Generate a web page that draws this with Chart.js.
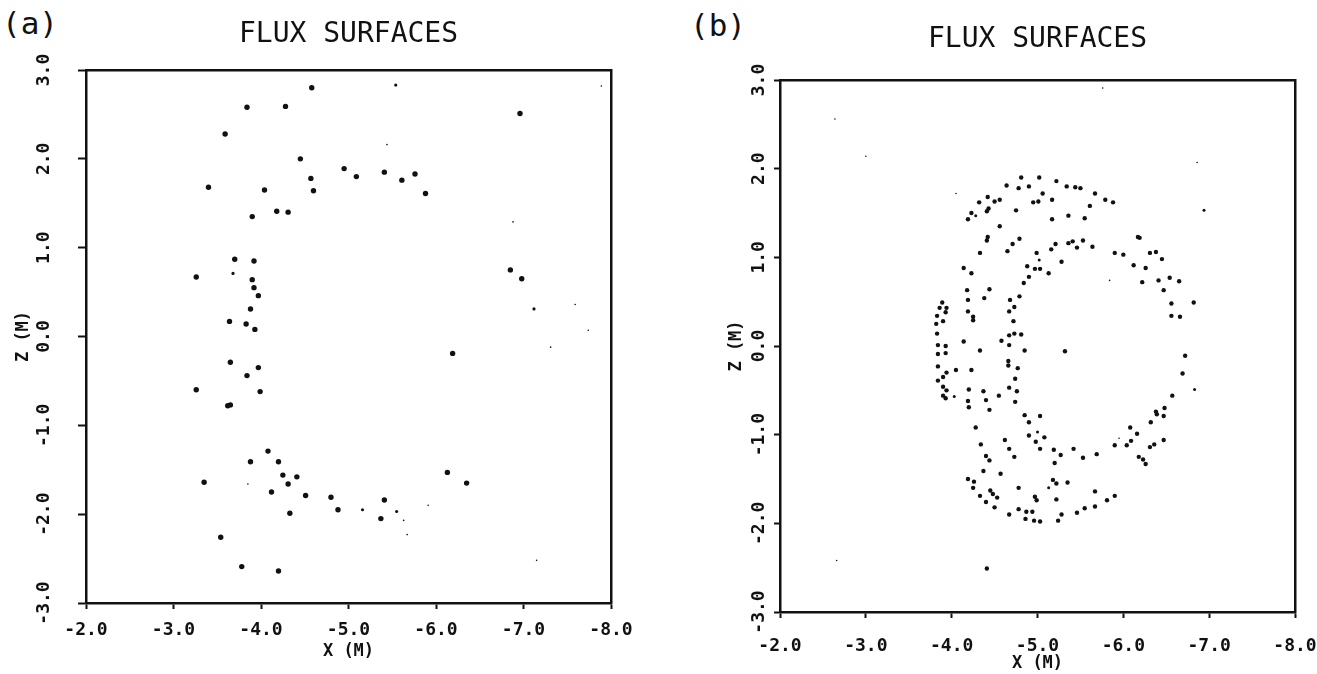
<!DOCTYPE html>
<html>
<head>
<meta charset="utf-8">
<script src="https://cdn.jsdelivr.net/npm/chart.js@4.4.1/dist/chart.umd.min.js"></script>
<style>
  html, body { margin: 0; padding: 0; background: #fff; }
  body { width: 1317px; height: 674px; overflow: hidden; position: relative; }
  canvas { position: absolute; top: 0; }
  .plab { position: absolute; font-family: 'DejaVu Sans Mono', monospace; font-size: 31px; line-height: 1; color: #111; }
</style>
</head>
<body>
<div class="plab" style="left:2px;top:8px">(a)</div>
<div class="plab" style="left:690px;top:10px">(b)</div>
<canvas id="ca" width="700" height="674" style="left:0"></canvas>
<canvas id="cb" width="700" height="674" style="left:660px"></canvas>
<script>
// ---------- data ----------
const chartTitle = "FLUX SURFACES";
const xAxisTitle = "X (M)";
const yAxisTitle = "Z (M)";
const xTickValues = [-8, -7, -6, -5, -4, -3, -2];
const xTickLabels = ["-8.0", "-7.0", "-6.0", "-5.0", "-4.0", "-3.0", "-2.0"];
const yTickValues = [-3, -2, -1, 0, 1, 2, 3];
const yTickLabels = ["-3.0", "-2.0", "-1.0", "0.0", "1.0", "2.0", "3.0"];

// panel (a) puncture points [X, Z]
const aDots = [
  [-3.84,2.58],[-4.28,2.59],[-4.58,2.80],[-6.96,2.51],[-3.59,2.28],[-4.45,2.00],
  [-4.95,1.89],[-5.09,1.80],[-5.41,1.85],[-5.61,1.76],[-5.76,1.83],[-5.88,1.61],
  [-4.57,1.78],[-4.60,1.64],[-3.40,1.68],[-4.04,1.65],[-4.18,1.41],[-4.31,1.40],
  [-3.90,1.35],[-3.70,0.87],[-3.92,0.85],[-3.26,0.67],[-6.85,0.75],[-6.98,0.65],
  [-3.90,0.64],[-3.92,0.55],[-3.97,0.46],[-3.88,0.31],[-3.64,0.17],[-3.83,0.14],
  [-3.93,0.08],[-6.19,-0.19],[-3.65,-0.29],[-3.97,-0.35],[-3.84,-0.44],[-3.26,-0.60],
  [-3.99,-0.62],[-3.65,-0.77],[-3.62,-0.78],[-4.08,-1.29],[-3.88,-1.41],[-4.20,-1.41],
  [-4.25,-1.56],[-4.41,-1.58],[-4.31,-1.66],[-3.35,-1.64],[-4.12,-1.75],[-4.51,-1.79],
  [-4.80,-1.81],[-6.13,-1.53],[-6.35,-1.65],[-5.41,-1.84],[-4.88,-1.95],[-4.33,-1.99],
  [-5.37,-2.05],[-3.54,-2.26],[-3.78,-2.59],[-4.20,-2.64]
];
const aSmallDots = [
  [-5.54,2.83],[-3.68,0.71],[-7.12,0.31],[-5.16,-1.95],[-5.55,-1.97]
];
const aFaintDots = [
  [-5.63,-2.07],[-5.67,-2.23],[-5.44,2.16],[-5.91,-1.90],[-7.31,-0.12],[-7.15,-2.52],
  [-3.85,-1.66],[-7.89,2.82],[-7.59,0.36],[-6.88,1.29],[-7.74,0.07]
];

// panel (b) puncture points [X, Z]
const bDots = [
  [-4.81,1.90],[-5.02,1.90],[-5.22,1.86],[-5.34,1.80],[-5.44,1.79],[-5.50,1.78],[-4.64,1.81],[-4.78,1.78],[-4.90,1.80],
  [-4.42,1.68],[-4.32,1.62],[-4.50,1.63],[-4.56,1.65],[-4.43,1.55],[-4.41,1.52],[-4.23,1.50],[-4.19,1.43],
  [-4.75,1.53],[-4.95,1.62],[-5.01,1.63],[-5.06,1.72],[-5.17,1.65],[-5.17,1.43],[-4.56,1.35],[-4.42,1.23],
  [-4.41,1.19],[-4.79,1.21],[-4.71,1.15],[-4.65,1.07],[-4.33,1.05],[-5.21,1.15],[-5.16,1.09],[-4.99,1.05],
  [-5.28,0.95],[-4.88,0.90],[-4.97,0.87],[-5.03,0.87],[-5.13,0.82],[-4.14,0.88],[-4.23,0.82],[-4.90,0.78],
  [-4.84,0.71],[-4.44,0.64],[-4.18,0.63],[-4.38,0.54],[-4.19,0.52],[-4.79,0.56],[-4.68,0.52],[-3.89,0.49],
  [-3.86,0.43],[-3.94,0.43],[-3.93,0.38],[-3.83,0.34],[-3.90,0.28],[-3.82,0.25],[-4.73,0.44],[-4.67,0.39],
  [-4.19,0.39],[-4.25,0.33],[-4.25,0.29],[-4.72,0.28],[-3.83,0.14],[-4.67,0.12],[-4.73,0.14],[-4.81,0.13],
  [-4.58,0.06],[-4.14,0.05],[-3.84,0.01],[-3.93,0.00],[-4.67,0.01],[-4.33,-0.05],[-4.85,-0.05],[-3.84,-0.09],
  [-3.93,-0.08],[-4.66,-0.17],[-4.66,-0.22],[-3.84,-0.23],[-4.05,-0.27],[-4.23,-0.27],[-3.94,-0.30],[-4.77,-0.25],
  [-5.32,-0.06],
  [-5.67,1.72],[-5.79,1.65],[-5.88,1.62],[-5.61,1.58],[-5.36,1.47],[-5.55,1.44],[-6.17,1.23],[-6.19,1.22],
  [-5.36,1.16],[-5.41,1.18],[-5.53,1.19],[-5.46,1.11],[-5.64,1.12],[-5.90,1.05],[-6.00,1.03],[-6.31,1.05],
  [-6.38,1.06],[-6.45,0.98],[-6.12,0.91],[-6.26,0.88],[-6.22,0.72],[-6.41,0.74],[-6.54,0.77],[-6.65,0.73],
  [-6.47,0.63],[-6.56,0.48],[-6.82,0.49],[-6.56,0.34],[-6.66,0.33],[-6.72,-0.11],[-6.69,-0.31],
  [-3.84,-0.39],[-3.90,-0.35],[-4.74,-0.37],[-3.90,-0.46],[-3.94,-0.50],[-3.90,-0.56],[-3.93,-0.59],[-4.20,-0.49],
  [-4.37,-0.51],[-4.67,-0.47],[-4.76,-0.51],[-4.55,-0.56],[-4.19,-0.62],[-4.20,-0.69],[-4.40,-0.61],[-4.74,-0.63],
  [-4.44,-0.72],[-4.85,-0.78],[-5.03,-0.79],[-4.90,-0.86],[-4.28,-0.92],[-4.90,-1.01],[-5.08,-1.03],[-4.62,-1.06],
  [-4.98,-1.08],[-4.34,-1.11],[-4.67,-1.16],[-5.03,-1.16],[-5.19,-1.17],[-5.27,-1.23],[-4.40,-1.24],[-4.44,-1.29],
  [-4.73,-1.25],[-5.20,-1.32],[-4.37,-1.41],[-4.57,-1.44],[-4.19,-1.50],[-4.26,-1.53],[-4.25,-1.60],[-5.18,-1.51],
  [-5.22,-1.55],[-4.78,-1.60],[-4.45,-1.63],[-4.48,-1.67],[-4.33,-1.69],[-4.53,-1.71],[-4.97,-1.70],[-4.99,-1.74],
  [-5.22,-1.73],[-4.40,-1.76],[-4.50,-1.82],[-4.78,-1.84],[-4.87,-1.87],[-4.94,-1.87],[-4.67,-1.90],[-5.28,-1.90],
  [-5.24,-1.97],[-4.86,-1.95],[-4.96,-1.97],[-5.03,-1.98],
  [-6.57,-0.56],[-6.48,-0.70],[-6.38,-0.74],[-6.39,-0.77],[-6.47,-0.79],[-6.32,-0.86],[-6.08,-0.92],[-6.16,-0.99],
  [-5.90,-1.12],[-6.04,-1.12],[-6.09,-1.07],[-6.31,-1.14],[-6.36,-1.11],[-6.47,-1.06],[-5.42,-1.16],[-5.53,-1.26],
  [-5.69,-1.22],[-6.18,-1.25],[-6.23,-1.28],[-6.26,-1.33],[-5.35,-1.54],[-5.67,-1.64],[-5.90,-1.69],[-5.81,-1.74],
  [-5.67,-1.81],[-5.55,-1.83],[-5.46,-1.88],
  [-4.41,-2.51]
];
const bSmallDots = [
  [-4.28,1.47],[-5.02,0.97],[-6.94,1.53],[-4.03,-0.57],[-5.00,-0.97],[-5.13,-1.60],[-6.83,-0.49]
];
const bFaintDots = [
  [-5.84,0.74],[-5.95,-1.04],[-4.05,1.72],[-6.86,2.07],[-2.64,2.56],[-3.00,2.14],[-5.76,2.91],[-2.66,-2.42]
];

// ---------- chart construction ----------
const MONO = "'DejaVu Sans Mono', monospace";
const INK = '#111';
Chart.defaults.font.family = MONO;
Chart.defaults.color = INK;

const toPts = arr => arr.map(p => ({ x: p[0], y: p[1] }));

function dotSet(arr, r) {
  return {
    data: toPts(arr),
    pointRadius: r,
    pointHoverRadius: r,
    pointBackgroundColor: INK,
    pointBorderWidth: 0,
    borderWidth: 0,
    showLine: false
  };
}

function frameAxis(pos) {
  return {
    type: 'linear', position: pos, display: true, min: 0, max: 1,
    ticks: { display: false },
    grid: { display: true, drawOnChartArea: false, drawTicks: false },
    border: { display: true, color: INK, width: 2.5 },
    afterFit(s) { if (pos === 'top' || pos === 'bottom') s.height = 0; else s.width = 0; }
  };
}

const TICK_FONT = { family: MONO, size: 18, weight: 'bold' };
const AXIS_FONT = { family: MONO, size: 17, weight: 'bold' };

function makePanel(canvasId, g, datasets) {
  return new Chart(document.getElementById(canvasId), {
    type: 'scatter',
    data: { datasets },
    options: {
      responsive: false,
      animation: false,
      devicePixelRatio: 1,
      events: [],
      layout: { padding: { left: 0, right: g.padRight, top: 0, bottom: 0 } },
      plugins: {
        legend: { display: false },
        tooltip: { enabled: false },
        title: {
          display: true, text: chartTitle, fullSize: false, color: INK,
          font: { family: MONO, size: 28, weight: 'normal' },
          padding: { top: g.titleTop, bottom: g.titleBottom }
        }
      },
      scales: {
        x: {
          type: 'linear', position: 'bottom', min: -8, max: -2, reverse: true,
          afterBuildTicks(s) { s.ticks = xTickValues.map(v => ({ value: v })); },
          afterFit(s) { s.height = g.xAxisH; },
          ticks: {
            font: TICK_FONT, color: INK,
            padding: g.xTickPad, maxRotation: 0, minRotation: 0,
            callback: v => xTickLabels[xTickValues.indexOf(v)]
          },
          grid: { display: true, drawOnChartArea: false, drawTicks: true, tickLength: 6, tickColor: INK, tickWidth: 2 },
          border: { display: true, color: INK, width: 2.5 },
          title: {
            display: true, text: xAxisTitle, color: INK, font: AXIS_FONT,
            padding: { top: 0, bottom: g.xTitlePad }
          }
        },
        y: {
          type: 'linear', position: 'left', min: -3, max: 3,
          afterBuildTicks(s) { s.ticks = yTickValues.map(v => ({ value: v })); },
          afterFit(s) { s.width = g.yAxisW; },
          ticks: {
            font: TICK_FONT, color: INK,
            minRotation: 90, maxRotation: 90, crossAlign: 'center',
            padding: g.yTickPad,
            callback: v => yTickLabels[yTickValues.indexOf(v)]
          },
          grid: { display: true, drawOnChartArea: false, drawTicks: true, tickLength: g.yTickLen, tickColor: INK, tickWidth: 2 },
          border: { display: true, color: INK, width: 2.5 },
          title: {
            display: true, text: yAxisTitle, color: INK, font: AXIS_FONT,
            padding: { top: g.yTitlePad, bottom: 0 }
          }
        },
        xTop: frameAxis('top'),
        yRight: frameAxis('right')
      }
    }
  });
}

// panel (a): plot area 86..611 x 70..603 (canvas at page x 0)
makePanel('ca', {
  padRight: 700 - 611, titleTop: 17.5, titleBottom: 18.9,
  xAxisH: 674 - 603, xTickPad: 10.2, xTitlePad: 11.8,
  yAxisW: 86, yTickLen: 8, yTickPad: 12.3, yTitlePad: 13.8
}, [
  dotSet(aDots, 2.7),
  dotSet(aSmallDots, 1.6),
  dotSet(aFaintDots, 0.8)
]);

// panel (b): plot area 780..1295 x 80..612 (canvas at page x 660)
makePanel('cb', {
  padRight: 700 - (1295 - 660), titleTop: 22.7, titleBottom: 23.7,
  xAxisH: 674 - 612, xTickPad: 17.2, xTitlePad: 0,
  yAxisW: 780 - 660, yTickLen: 6, yTickPad: -7.2, yTitlePad: 66.8
}, [
  dotSet(bDots, 2.2),
  dotSet(bSmallDots, 1.5),
  dotSet(bFaintDots, 0.8)
]);
</script>
</body>
</html>
